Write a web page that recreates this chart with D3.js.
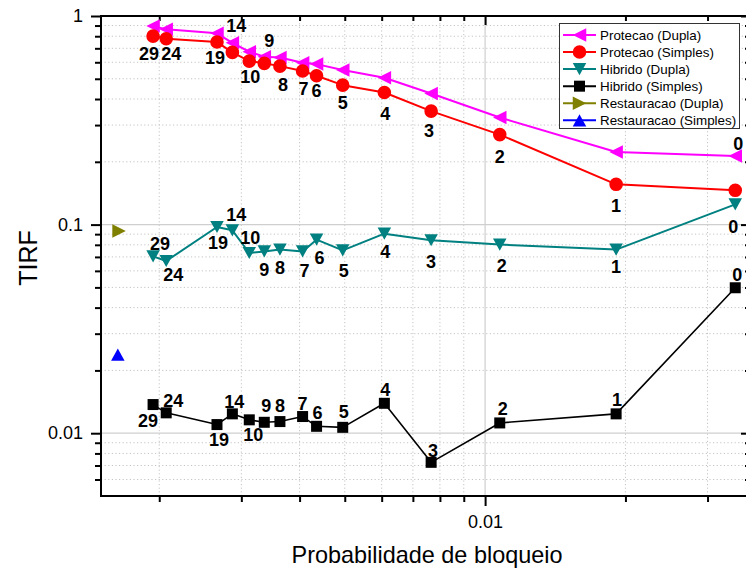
<!DOCTYPE html>
<html>
<head>
<meta charset="utf-8">
<script src="https://cdn.jsdelivr.net/npm/d3@7"></script>
<style>
  html, body { margin: 0; padding: 0; background: #fff; }
  svg { display: block; font-family: "Liberation Sans", Arial, sans-serif; }
</style>
</head>
<body>
<svg id="chart" width="746" height="570"></svg>
<script>
// Point annotations (number of the configuration) and blocking probabilities
const pointLabels = ["29", "24", "19", "14", "10", "9", "8", "7", "6", "5", "4", "3", "2", "1", "0"];
const bloqueio = [0.00194, 0.00207, 0.00266, 0.00287, 0.00312, 0.00336, 0.00363, 0.00406,
                  0.00435, 0.00495, 0.00608, 0.00766, 0.01075, 0.0191, 0.0344];

// TIRF per scheme
const protecaoDupla   = [0.895, 0.863, 0.826, 0.744, 0.674, 0.638, 0.633, 0.597, 0.588, 0.551, 0.506, 0.425, 0.326, 0.223, 0.213];
const protecaoSimples = [0.801, 0.778, 0.750, 0.669, 0.608, 0.593, 0.575, 0.545, 0.517, 0.466, 0.430, 0.350, 0.270, 0.156, 0.146];
const hibridoDupla    = [0.0704, 0.0669, 0.0974, 0.0939, 0.0731, 0.0744, 0.0759, 0.0744, 0.0847, 0.0752, 0.0905, 0.0841, 0.0802, 0.0759, 0.1251];
const hibridoSimples  = [0.01372, 0.01252, 0.0110, 0.01238, 0.01159, 0.01128, 0.01137, 0.01202, 0.01079, 0.01067, 0.01391, 0.00725, 0.0112, 0.01238, 0.0498];

// Single-point schemes
const restauracaoDuplaX = [0.00164], restauracaoDuplaY = [0.0932];
const restauracaoSimplesX = [0.00163], restauracaoSimplesY = [0.0238];

// Axis settings
const xDomain = [0.0015, 0.037];
const yDomain = [0.005, 1];
const xMajor = [0.01];
const xMinor = [0.002, 0.003, 0.004, 0.005, 0.006, 0.007, 0.008, 0.009, 0.02, 0.03];
const yMajor = [0.01, 0.1, 1];
const yMinor = [0.006, 0.007, 0.008, 0.009, 0.02, 0.03, 0.04, 0.05, 0.06, 0.07, 0.08, 0.09,
                0.2, 0.3, 0.4, 0.5, 0.6, 0.7, 0.8, 0.9];

// ---- layout ----
const L = 101, R = 750, T = 16, B = 496;
const svg = d3.select("#chart");
svg.append("rect").attr("width", 746).attr("height", 570).attr("fill", "#fff");

const x = d3.scaleLog().domain(xDomain).range([L, R]);
const y = d3.scaleLog().domain(yDomain).range([B, T]);

// grid
const grid = svg.append("g");
grid.selectAll("line.vmin").data(xMinor).join("line")
  .attr("x1", d => x(d)).attr("x2", d => x(d)).attr("y1", T).attr("y2", B)
  .attr("stroke", "#c4c4c4").attr("stroke-width", 1).attr("stroke-dasharray", "1.2,2.4");
grid.selectAll("line.hmin").data(yMinor).join("line")
  .attr("x1", L).attr("x2", R).attr("y1", d => y(d)).attr("y2", d => y(d))
  .attr("stroke", "#c4c4c4").attr("stroke-width", 1).attr("stroke-dasharray", "1.2,2.4");
grid.selectAll("line.vmaj").data(xMajor).join("line")
  .attr("x1", d => x(d)).attr("x2", d => x(d)).attr("y1", T).attr("y2", B)
  .attr("stroke", "#cfcfcf").attr("stroke-width", 1.2);
grid.selectAll("line.hmaj").data(yMajor).join("line")
  .attr("x1", L).attr("x2", R).attr("y1", d => y(d)).attr("y2", d => y(d))
  .attr("stroke", "#cfcfcf").attr("stroke-width", 1.2);

// axes
function styleAxis(g) {
  g.select(".domain").remove();
  g.selectAll(".tick line").attr("stroke", "#000").attr("stroke-width", 2);
  g.selectAll(".tick text").attr("fill", "#000").attr("font-size", 18)
    .attr("font-family", "'Liberation Sans', Arial, sans-serif");
}
svg.append("g").attr("transform", `translate(0,${B})`)
  .call(d3.axisBottom(x).tickValues(xMajor).tickSize(10).tickPadding(9).tickFormat(d3.format(".2")))
  .call(styleAxis);
svg.append("g").attr("transform", `translate(0,${B})`)
  .call(d3.axisBottom(x).tickValues(xMinor).tickSize(6).tickFormat(""))
  .call(styleAxis);
svg.append("g").attr("transform", `translate(${L},0)`)
  .call(d3.axisLeft(y).tickValues(yMajor).tickSize(10).tickPadding(8).tickFormat(d => d === 1 ? "1" : String(d)))
  .call(styleAxis);
svg.append("g").attr("transform", `translate(${L},0)`)
  .call(d3.axisLeft(y).tickValues(yMinor).tickSize(6).tickFormat(""))
  .call(styleAxis);
svg.append("g").attr("transform", `translate(0,${T})`)
  .call(d3.axisTop(x).tickValues(xMajor).tickSize(-9).tickFormat(""))
  .call(styleAxis);
svg.append("g").attr("transform", `translate(0,${T})`)
  .call(d3.axisTop(x).tickValues(xMinor).tickSize(-5).tickFormat(""))
  .call(styleAxis);
svg.append("g").attr("transform", `translate(${R},0)`)
  .call(d3.axisRight(y).tickValues(yMajor).tickSize(-9).tickFormat(""))
  .call(styleAxis);
svg.append("g").attr("transform", `translate(${R},0)`)
  .call(d3.axisRight(y).tickValues(yMinor).tickSize(-5).tickFormat(""))
  .call(styleAxis);

// frame
svg.append("rect").attr("x", L).attr("y", T).attr("width", R - L).attr("height", B - T)
  .attr("fill", "none").attr("stroke", "#000").attr("stroke-width", 2);

// axis titles
svg.append("text").attr("x", 427).attr("y", 563).attr("text-anchor", "middle")
  .attr("font-size", 24).attr("textLength", 271).attr("lengthAdjust", "spacingAndGlyphs")
  .text("Probabilidade de bloqueio");
svg.append("text").attr("transform", "translate(37,258) rotate(-90)").attr("text-anchor", "middle")
  .attr("font-size", 25).text("TIRF");

// markers
function markerPath(shape) {
  const s = 13.5, h = s / 2;
  switch (shape) {
    case "left":  return `M${-h},0L${h},${-h}L${h},${h}Z`;
    case "right": return `M${h},0L${-h},${-h}L${-h},${h}Z`;
    case "down":  return `M${-h},${-h * 0.9}L${h},${-h * 0.9}L0,${h * 0.9}Z`;
    case "up":    return `M${-h},${h * 0.9}L${h},${h * 0.9}L0,${-h * 0.9}Z`;
    case "square": return "M-5.5,-5.5H5.5V5.5H-5.5Z";
    case "circle": return d3.symbol(d3.symbolCircle, Math.PI * 6.8 * 6.8)();
  }
}

// label placement (pixel offsets from each point)
const offProtecaoDupla = [null, null, null, [4, -17], null, [5, -16], null, null, null, null, null, null, null, null, [3, -13]];
const offProtecaoSimples = [[-4, 17], [5, 15], [-2, 15], null, [1, 15], null, [3, 18], [1, 18], [0, 15], [0, 17], [1, 21], [-2, 19], [0, 22], [0, 21], null];
const offHibridoDupla = [[7, -13], [7, 14], [1, 16], [4, -16], [1, -15], [0, 18], [0, 18], [2, 19], [3, 18], [1, 20], [1, 18], [0, 21], [2, 21], [0, 17], [-2, 22]];
const offHibridoSimples = [[-5, 16], [7, -12], [2, 15], [2, -12], [4, 15], [2, -17], [0, -16], [0, -13], [1, -14], [1, -16], [1, -14], [2, -12], [3, -14], [1, -14], [2, -13]];

const series = [
  { name: "Protecao (Dupla)",     color: "#ff00ff", shape: "left",   xs: bloqueio, ys: protecaoDupla,   lw: 2,   off: offProtecaoDupla },
  { name: "Protecao (Simples)",   color: "#ff0000", shape: "circle", xs: bloqueio, ys: protecaoSimples, lw: 2,   off: offProtecaoSimples },
  { name: "Hibrido (Dupla)",      color: "#008080", shape: "down",   xs: bloqueio, ys: hibridoDupla,    lw: 2,   off: offHibridoDupla },
  { name: "Hibrido (Simples)",    color: "#000000", shape: "square", xs: bloqueio, ys: hibridoSimples,  lw: 1.6, off: offHibridoSimples },
  { name: "Restauracao (Dupla)",  color: "#808000", shape: "right",  xs: restauracaoDuplaX, ys: restauracaoDuplaY, lw: 2, off: null },
  { name: "Restauracao (Simples)", color: "#0000ff", shape: "up",    xs: restauracaoSimplesX, ys: restauracaoSimplesY, lw: 2, off: null }
];

const line = d3.line().x(d => x(d[0])).y(d => y(d[1]));
const plot = svg.append("g");
series.forEach(s => {
  const pts = s.xs.map((v, i) => [v, s.ys[i]]);
  const g = plot.append("g");
  if (pts.length > 1) {
    g.append("path").attr("d", line(pts)).attr("fill", "none")
      .attr("stroke", s.color).attr("stroke-width", s.lw).attr("stroke-linejoin", "round");
  }
  g.selectAll("path.m").data(pts).join("path").attr("class", "m")
    .attr("transform", d => `translate(${x(d[0])},${y(d[1])})`)
    .attr("d", markerPath(s.shape)).attr("fill", s.color);
});

// point annotations
const labels = svg.append("g").attr("font-weight", "bold").attr("font-size", 18).attr("fill", "#000");
series.forEach(s => {
  if (!s.off) return;
  s.xs.forEach((v, i) => {
    const o = s.off[i];
    if (!o) return;
    labels.append("text")
      .attr("x", x(v) + o[0]).attr("y", y(s.ys[i]) + o[1]).attr("dy", "0.36em")
      .attr("text-anchor", "middle").text(pointLabels[i]);
  });
});

// legend
const lg = svg.append("g");
lg.append("rect").attr("x", 559.5).attr("y", 23.5).attr("width", 180).attr("height", 105)
  .attr("fill", "#fff").attr("stroke", "#333").attr("stroke-width", 1);
series.forEach((s, i) => {
  const cy = 35 + i * 17.06;
  lg.append("line").attr("x1", 563).attr("x2", 596).attr("y1", cy).attr("y2", cy)
    .attr("stroke", s.color).attr("stroke-width", 2);
  lg.append("path").attr("transform", `translate(579.5,${cy})`).attr("d", markerPath(s.shape)).attr("fill", s.color);
  lg.append("text").attr("x", 600).attr("y", cy).attr("dy", "0.36em").attr("font-size", 13.4).text(s.name);
});
</script>
</body>
</html>
